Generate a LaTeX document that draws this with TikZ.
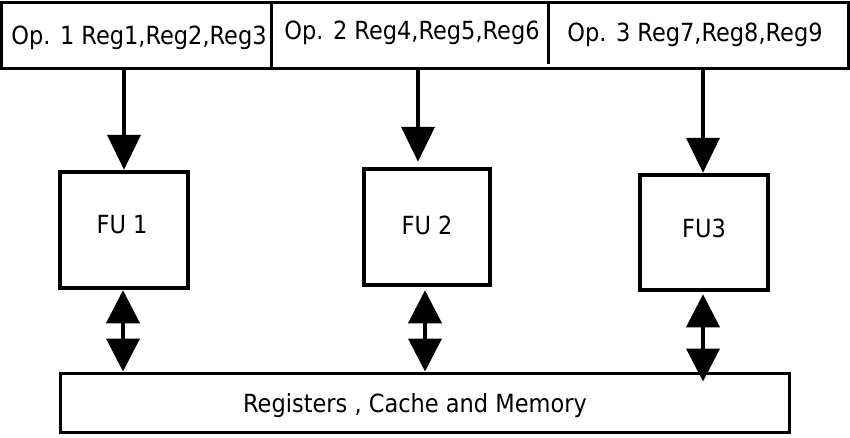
\documentclass[tikz,border=0pt]{standalone}
\usepackage{fontspec}
\setmainfont{DejaVu Sans Condensed}
\usetikzlibrary{arrows.meta}
\begin{document}
\begin{tikzpicture}[x=1pt,y=-1pt,
  thinbox/.style={draw,line width=3pt,inner sep=0pt},
  fubox/.style={draw,line width=4.5pt,inner sep=0pt},
  lbl/.style={font=\fontsize{25}{30}\selectfont,anchor=base,inner sep=0pt},
  arr/.style={line width=4pt,-{Triangle[length=35pt,width=33pt]}},
  darr/.style={line width=4pt,{Triangle[length=33pt,width=33pt]}-{Triangle[length=33pt,width=33pt]}}]
\useasboundingbox (0,0) rectangle (850,437);
% top bar
\node[thinbox,minimum width=847pt,minimum height=66.5pt] (bar) at (425,35.25) {};
\draw[line width=3pt] (271,2) -- (271,68.5);
\draw[line width=3pt] (548,2) -- (548,64);
\node[lbl] (op1) at (139,44) {Op. 1 Reg1,Reg2,Reg3};
\node[lbl] (op2) at (412,39) {Op. 2 Reg4,Reg5,Reg6};
\node[lbl] (op3) at (695,41) {Op. 3 Reg7,Reg8,Reg9};
% FU boxes
\node[fubox,minimum width=128pt,minimum height=116pt] (fu1) at (124,230) {};
\node[fubox,minimum width=126pt,minimum height=116pt] (fu2) at (427,227) {};
\node[fubox,minimum width=128pt,minimum height=115pt] (fu3) at (704,232.5) {};
\node[lbl] (t1) at (122,233) {FU 1};
\node[lbl] (t2) at (427,234) {FU 2};
\node[lbl] (t3) at (704,237) {FU3};
% memory
\node[thinbox,minimum width=729pt,minimum height=59pt] (mem) at (424.5,402.5) {};
\node[lbl] (tm) at (415,412) {Registers , Cache and Memory};
% arrows from bar
\coordinate (a1) at (124,68.5);
\coordinate (a2) at (418,68.5);
\coordinate (a3) at (703,68.5);
\draw[arr] (a1) -- (a1 |- fu1.north);
\draw[arr,shorten >=5pt] (a2) -- (a2 |- fu2.north);
\draw[arr] (a3) -- (a3 |- fu3.north);
% double arrows
\coordinate (d1) at (123,0);
\coordinate (d2) at (425,0);
\coordinate (d3) at (703,0);
\draw[darr] (d1 |- fu1.south) -- (d1 |- mem.north);
\draw[darr,shorten <=3pt] (d2 |- fu2.south) -- (d2 |- mem.north);
\draw[darr,shorten <=2pt,shorten >=-10pt] (d3 |- fu3.south) -- (d3 |- mem.north);
\end{tikzpicture}
\end{document}
